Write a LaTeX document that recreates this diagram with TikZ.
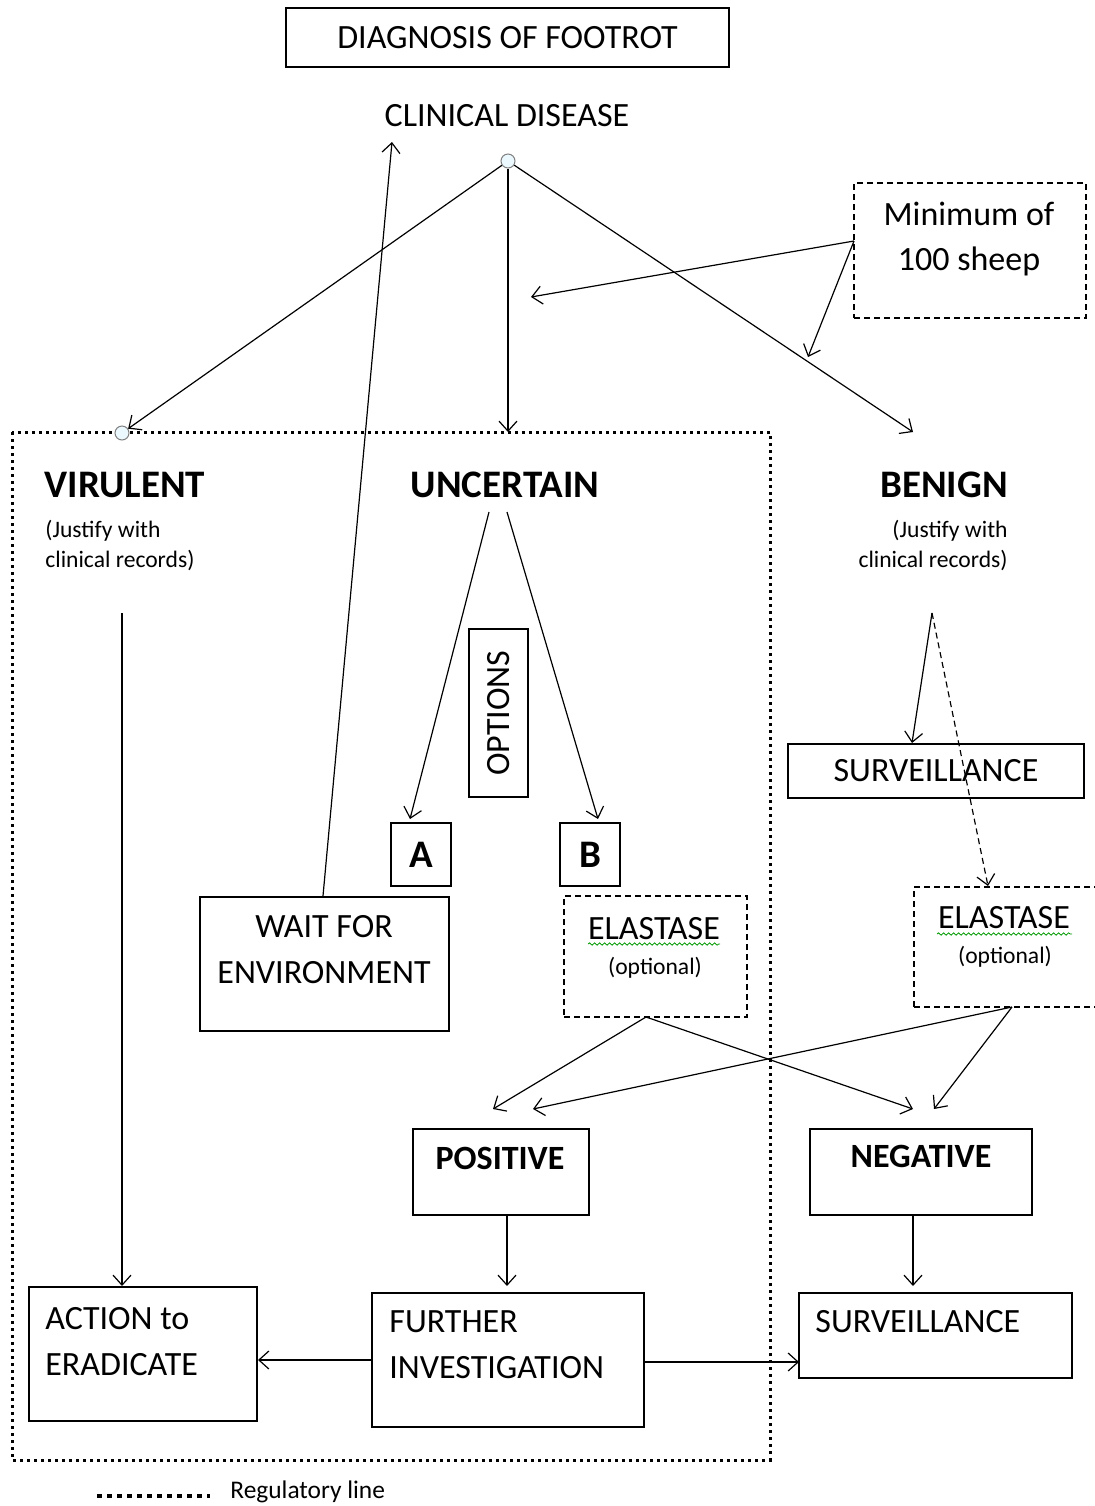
\documentclass[tikz,border=0pt]{standalone}
\usepackage{fontspec}
\setmainfont{Carlito}
\usetikzlibrary{arrows.meta,positioning,decorations.pathmorphing}
\newcommand{\fmid}{\fontsize{17}{23}\selectfont}
\newcommand{\fhead}{\fontsize{19.5}{24}\selectfont\bfseries}
\newcommand{\fsmall}{\fontsize{11.8}{15}\selectfont}
\newcommand{\fleg}{\fontsize{12.7}{14}\selectfont}
\tikzstyle{every node}+=[inner sep=0pt,font=\fmid]
\tikzstyle{box}=[draw,line width=0.75pt]
\tikzstyle{dbox}=[box,dash pattern=on 3pt off 2pt]
\tikzstyle{joint}=[circle,draw=gray,fill=cyan!8,minimum size=7pt,line width=0.5pt]
\tikzstyle{arr}=[-{Straight Barb[length=5pt,width=9pt]},line width=0.6pt]
\tikzstyle{regline}=[line width=1.5pt,dash pattern=on 1.5pt off 2pt]
\tikzstyle{squiggle}=[green!60!black,line width=0.4pt,decorate,decoration={snake,amplitude=0.6pt,segment length=2.5pt}]
\newcommand{\drawarrows}[2][\empty]{
	\foreach \a/\b in {#2}{
		\draw[arr,#1] (\a) -- (\b);
	}
}

\begin{document}
\begin{tikzpicture}[x=0.5pt,y=-0.5pt]

\useasboundingbox (0,0) rectangle (1094,1506);

\node[box,minimum width=221.5pt,minimum height=29.5pt] (title) at (507.5,37.5) {DIAGNOSIS OF FOOTROT};
\node (clin) at (507,116) {CLINICAL DISEASE};
\node[joint] (top) at (508,161) {};

\node[dbox,minimum width=116pt,minimum height=67.5pt] (mini) at (970,250.5) {};
\node (mini1) at (969,214) {Minimum of};
\node (mini2) at (969,261) {100 sheep};

\draw[regline] (12,432) rectangle (770,1460);
\node[joint] (vj) at (122,433) {};

\node[font=\fhead] (vir) at (125,485) {VIRULENT};
\node[font=\fhead] (unc) at (505,485) {UNCERTAIN};
\node[font=\fhead] (ben) at (944,485) {BENIGN};
\node[font=\fsmall,align=left,anchor=west] (virj) at (45,546) {(Justify with\\clinical records)};
\node[font=\fsmall,align=right,anchor=east] (benj) at (1008,546) {(Justify with\\clinical records)};

\node[box,rotate=90,minimum width=84pt,minimum height=29.5pt] (opt) at (498.5,713) {OPTIONS};
\node[box,font=\fontsize{19.5}{20}\selectfont\bfseries,minimum width=30pt,minimum height=31.5pt] (a) at (421,854.5) {A};
\node[box,font=\fontsize{19.5}{20}\selectfont\bfseries,minimum width=30pt,minimum height=31.5pt] (b) at (590,854.5) {B};

\node[box,minimum width=124.5pt,minimum height=67pt] (wait) at (324.5,964) {};
\node[align=center] (waitt) at (324,950) {WAIT FOR\\ENVIRONMENT};

\node[box,minimum width=148pt,minimum height=27pt] (surv1) at (936,771) {SURVEILLANCE};

\node[dbox,minimum width=91.5pt,minimum height=60.5pt] (ela1) at (655.5,956.5) {};
\node (ela1t) at (654,929) {ELASTASE};
\node[font=\fsmall] (ela1o) at (655,968) {(optional)};
\draw[squiggle] (588,944) -- (720,944);

\node[dbox,minimum width=94pt,minimum height=60pt] (ela2) at (1008,947) {};
\node (ela2t) at (1004,918) {ELASTASE};
\node[font=\fsmall] (ela2o) at (1005,957) {(optional)};
\draw[squiggle] (937,934) -- (1072,934);

\node[box,minimum width=88pt,minimum height=43pt] (pos) at (501,1172) {};
\node[font=\fmid\bfseries] (post) at (500,1158) {POSITIVE};
\node[box,minimum width=111pt,minimum height=43pt] (neg) at (921,1172) {};
\node[font=\fmid\bfseries] (negt) at (921,1156) {NEGATIVE};

\node[box,minimum width=114pt,minimum height=67pt] (act) at (143,1354) {};
\node[align=left,anchor=west] (actt) at (45,1342) {ACTION to\\ERADICATE};
\node[box,minimum width=136pt,minimum height=67pt] (fur) at (508,1360) {};
\node[align=left,anchor=west] (furt) at (389,1345) {FURTHER\\INVESTIGATION};
\node[box,minimum width=136.5pt,minimum height=42.5pt] (surv2) at (935.5,1335.5) {};
\node[anchor=west] (surv2t) at (815,1322) {SURVEILLANCE};

\coordinate (clin-in) at (392,142);
\coordinate (wait-up) at (323,896);
\coordinate (unc-in) at (508,432);
\coordinate (ben-in) at (913,432);
\coordinate (mini-w) at (854,241);
\coordinate (mid-l) at (531,297);
\coordinate (mid-r) at (808,357);
\coordinate (vir-s) at (122,613);
\coordinate (act-n) at (122,1286);
\coordinate (unc-l) at (489,512);
\coordinate (unc-r) at (507,512);
\coordinate (a-in) at (410,819);
\coordinate (b-in) at (598,819);
\coordinate (ben-s) at (932,613);
\coordinate (surv1-in) at (912,743);
\coordinate (ela2-in) at (988,886);
\coordinate (e1-s) at (646,1017);
\coordinate (e2-s) at (1012,1007);
\coordinate (pos-l) at (493,1109);
\coordinate (pos-r) at (533,1109);
\coordinate (neg-l) at (913,1109);
\coordinate (neg-r) at (934,1109);
\coordinate (pos-s) at (507,1215);
\coordinate (fur-n) at (507,1286);
\coordinate (neg-s) at (913,1215);
\coordinate (surv2-n) at (913,1286);
\coordinate (fur-w) at (372,1360);
\coordinate (act-e) at (258,1360);
\coordinate (fur-e) at (644,1362);
\coordinate (surv2-w) at (799,1362);

\drawarrows{wait-up/clin-in,top/vj,top/unc-in,top/ben-in,mini-w/mid-l,mini-w/mid-r}
\drawarrows{vir-s/act-n,unc-l/a-in,unc-r/b-in,ben-s/surv1-in}
\drawarrows[dash pattern=on 3pt off 2pt]{ben-s/ela2-in}
\drawarrows{e1-s/pos-l,e1-s/neg-l,e2-s/pos-r,e2-s/neg-r}
\drawarrows{pos-s/fur-n,neg-s/surv2-n,fur-w/act-e,fur-e/surv2-w}

\draw[line width=2pt,dash pattern=on 2.5pt off 2.5pt] (97,1496) -- (210,1496);
\node[font=\fleg,anchor=west] (leg) at (230,1492) {Regulatory line};

\end{tikzpicture}
\end{document}
